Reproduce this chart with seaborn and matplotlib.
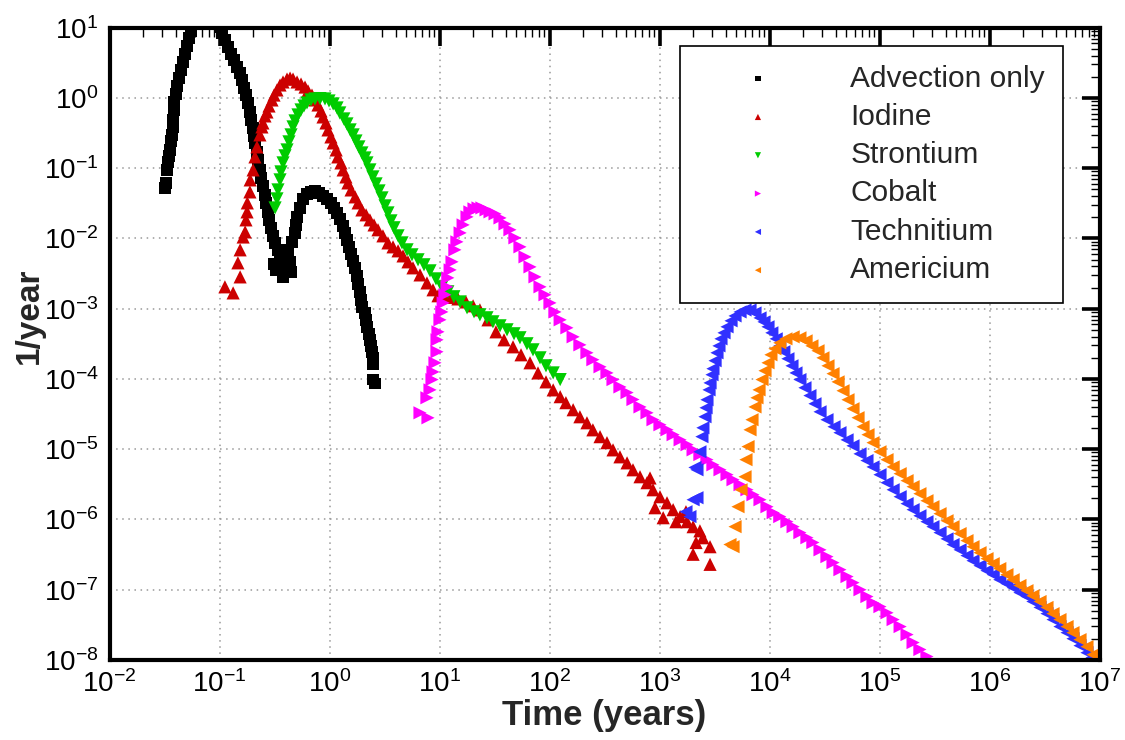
import numpy as np
import pandas as pd
import matplotlib
matplotlib.use("Agg")
import matplotlib.pyplot as plt
import seaborn as sns
from matplotlib.ticker import LogLocator, NullFormatter

# ---------------- data ----------------
adv_t = [0.0320, 0.0325, 0.0333, 0.0340, 0.0348, 0.0355, 0.0362, 0.0370, 0.0378, 0.0378,
         0.0386, 0.0386, 0.0402, 0.0411, 0.0428, 0.0447, 0.0466, 0.0486, 0.0507, 0.0528,
         0.0551, 0.0586, 0.0638, 0.0738, 0.0855, 0.0949, 0.101, 0.105, 0.112, 0.119,
         0.127, 0.135, 0.144, 0.154, 0.160, 0.167, 0.174, 0.182, 0.189, 0.193,
         0.202, 0.206, 0.210, 0.219, 0.224, 0.233, 0.238, 0.248, 0.259, 0.265,
         0.276, 0.282, 0.294, 0.306, 0.320, 0.340, 0.355, 0.313, 0.327, 0.378,
         0.403, 0.438, 0.447, 0.420, 0.456, 0.486, 0.496, 0.507, 0.539, 0.574,
         0.624, 0.679, 0.738, 0.803, 0.873, 0.949, 1.03, 1.10, 1.17, 1.24,
         1.33, 1.38, 1.44, 1.50, 1.57, 1.64, 1.71, 1.78, 1.82, 1.89,
         1.93, 1.97, 2.10, 2.15, 2.19, 2.29, 2.33, 2.38, 2.43, 2.48,
         2.48, 2.48, 2.59]
adv_q = [0.052, 0.0618, 0.0946, 0.123, 0.150, 0.182, 0.244, 0.298, 0.387, 0.486,
         0.675, 0.877, 1.14, 1.48, 1.92, 2.50, 3.25, 4.22, 5.49, 7.13,
         8.98, 12.1, 16.7, 21.0, 19.0, 13.7, 10.2, 8.41, 6.68, 5.32,
         4.23, 3.47, 2.76, 2.27, 1.80, 1.39, 1.10, 0.849, 0.632, 0.487,
         0.374, 0.288, 0.229, 0.171, 0.131, 0.0946, 0.0728, 0.0560, 0.0417, 0.0321,
         0.0239, 0.0184, 0.0142, 0.0109, 0.00865, 0.00689, 0.00565, 0.00435, 0.00357, 0.00284,
         0.00382, 0.00465, 0.00335, 0.00689, 0.00895, 0.0120, 0.0156, 0.0203, 0.0272, 0.0366,
         0.0431, 0.0460, 0.0475, 0.0446, 0.0404, 0.0366, 0.0321, 0.0272, 0.0231, 0.0190,
         0.0151, 0.0120, 0.00955, 0.00760, 0.00604, 0.00480, 0.00382, 0.00294, 0.00226, 0.00174,
         0.00134, 0.00106, 0.000874, 0.000695, 0.000553, 0.000440, 0.000361, 0.000297, 0.000244, 0.000200,
         0.000164, 0.000098, 0.000086]

iod_t = [0.112, 0.133, 0.154, 0.147, 0.154, 0.164, 0.171, 0.174, 0.178, 0.179,
         0.189, 0.190, 0.202, 0.210, 0.219, 0.233, 0.243, 0.248, 0.259, 0.270,
         0.282, 0.300, 0.313, 0.333, 0.355, 0.378, 0.411, 0.438, 0.466, 0.507,
         0.551, 0.599, 0.638, 0.693, 0.738, 0.786, 0.837, 0.873, 0.929, 0.969,
         1.03, 1.08, 1.15, 1.19, 1.27, 1.33, 1.41, 1.47, 1.57, 1.71,
         1.82, 1.97, 2.15, 2.33, 2.54, 2.76, 3.06, 3.40, 3.78, 4.20,
         4.66, 5.17, 5.74, 6.65, 7.69, 8.73, 9.69, 11.0, 12.5, 14.7,
         17.4, 20.2, 23.3, 27.6, 32.6, 38.6, 46.6, 55.1, 66.5, 78.6,
         92.9, 108, 125, 141, 164, 189, 219, 248, 288, 333,
         378, 437, 507, 574, 665, 770, 873, 1010, 1170, 1330,
         1540, 1780, 2020, 2330, 2480, 2880, 2020, 2880, 910, 1080,
         2150, 1410, 820, 1740]
iod_q = [0.00205, 0.00168, 0.00284, 0.00450, 0.00689, 0.0105, 0.0124, 0.0184, 0.0239, 0.0321,
         0.0460, 0.0682, 0.0946, 0.145, 0.201, 0.298, 0.387, 0.441, 0.555, 0.632,
         0.769, 0.937, 1.10, 1.30, 1.53, 1.69, 1.86, 1.92, 1.86, 1.69,
         1.58, 1.43, 1.26, 1.10, 0.937, 0.795, 0.653, 0.537, 0.441, 0.351,
         0.279, 0.229, 0.182, 0.145, 0.119, 0.0946, 0.0752, 0.0618, 0.0491, 0.0391,
         0.0321, 0.0255, 0.0217, 0.0184, 0.0156, 0.0133, 0.0109, 0.00865, 0.00760, 0.00667,
         0.00565, 0.00465, 0.00382, 0.00303, 0.00233, 0.00186, 0.00153, 0.00148, 0.00145, 0.00138,
         0.00125, 0.00110, 0.000964, 0.000695, 0.000469, 0.000361, 0.000287, 0.000221, 0.000170, 0.000122,
         9.1e-5, 7.0e-5, 5.6e-5, 4.6e-5, 3.65e-5, 2.9e-5, 2.38e-5, 1.89e-5, 1.51e-5, 1.24e-5,
         9.8e-6, 7.8e-6, 6.4e-6, 5.1e-6, 4.06e-6, 3.34e-6, 2.65e-6, 2.11e-6, 1.73e-6, 1.38e-6,
         1.10e-6, 9.3e-7, 7.9e-7, 6.9e-7, 5.5e-7, 4.1e-7, 3.2e-7, 2.3e-7, 1.47e-6, 1.06e-6,
         4.7e-7, 9.3e-7, 3.9e-6, 1.29e-6]

str_t = [0.320, 0.333, 0.340, 0.355, 0.362, 0.378, 0.394, 0.411, 0.428, 0.447,
         0.466, 0.486, 0.517, 0.551, 0.586, 0.624, 0.679, 0.738, 0.820, 0.910,
         0.990, 1.08, 1.17, 1.24, 1.35, 1.44, 1.54, 1.64, 1.74, 1.85,
         1.97, 2.10, 2.19, 2.33, 2.48, 2.65, 2.82, 3.00, 3.20, 3.40,
         3.62, 3.86, 4.20, 4.56, 5.07, 5.62, 6.38, 7.23, 8.20, 9.29,
         10.5, 11.9, 13.5, 15.4, 17.8, 20.6, 23.3, 27.0, 30.6, 35.5,
         41.1, 47.6, 53.9, 62.4, 70.8, 82.0, 92.9, 108, 125]
str_q = [0.0272, 0.0366, 0.0491, 0.0682, 0.0886, 0.119, 0.150, 0.182, 0.237, 0.298,
         0.387, 0.471, 0.573, 0.675, 0.769, 0.849, 0.937, 0.968, 0.980, 0.968,
         0.906, 0.822, 0.721, 0.612, 0.503, 0.427, 0.351, 0.298, 0.244, 0.201,
         0.165, 0.140, 0.119, 0.0946, 0.0752, 0.0598, 0.0475, 0.0378, 0.0291, 0.0231,
         0.0178, 0.0142, 0.0109, 0.00865, 0.00689, 0.00585, 0.00497, 0.00422, 0.00346, 0.00266,
         0.00205, 0.00174, 0.00148, 0.00125, 0.00103, 0.000904, 0.000819, 0.000743, 0.000651, 0.000571,
         0.000501, 0.000440, 0.000386, 0.000317, 0.000260, 0.000200, 0.000154, 0.000122, 0.000098]

cob_t = [6.65, 7.86, 7.69, 8.20, 8.55, 8.73, 9.10, 9.49, 9.50, 9.69,
         10.1, 10.5, 10.8, 11.2, 11.7, 11.9, 12.5, 13.0, 13.8, 14.4,
         15.4, 16.4, 17.8, 18.9, 20.6, 22.4, 24.3, 26.5, 28.8, 32.0,
         35.5, 39.4, 43.7, 48.5, 53.9, 59.9, 66.5, 73.8, 82.0, 91.0,
         101, 112, 125, 144, 164, 189, 219, 248, 288, 333,
         378, 437, 507, 574, 665, 770, 873, 1010, 1170, 1330,
         1540, 1780, 2020, 2330, 2700, 3060, 3550, 4110, 4660, 5400,
         6240, 7080, 8200, 9490, 10800, 12400, 14400, 16400, 18900, 21900,
         24800, 28800, 33300, 37800, 43700, 50700, 57400, 66500, 76900, 87300,
         101000, 117000, 133000, 154000, 178000, 202000, 233000, 270000]
cob_q = [3.30e-5, 2.80e-5, 5.4e-5, 7.0e-5, 9.8e-5, 1.26e-4, 1.70e-4, 2.44e-4, 3.61e-4, 4.69e-4,
         6.95e-4, 9.0e-4, 1.21e-3, 1.58e-3, 2.05e-3, 2.75e-3, 3.57e-3, 4.65e-3, 6.89e-3, 8.95e-3,
         1.20e-2, 1.56e-2, 2.03e-2, 2.39e-2, 2.64e-2, 2.72e-2, 2.72e-2, 2.55e-2, 2.39e-2, 2.24e-2,
         1.96e-2, 1.61e-2, 1.33e-2, 1.02e-2, 7.60e-3, 5.47e-3, 3.94e-3, 2.84e-3, 2.05e-3, 1.58e-3,
         1.21e-3, 9.0e-4, 6.95e-4, 5.35e-4, 3.98e-4, 3.06e-4, 2.36e-4, 1.88e-4, 1.49e-4, 1.22e-4,
         9.8e-5, 7.7e-5, 6.4e-5, 5.1e-5, 4.0e-5, 3.30e-5, 2.63e-5, 2.23e-5, 1.89e-5, 1.61e-5,
         1.36e-5, 1.16e-5, 9.8e-6, 8.4e-6, 7.1e-6, 6.0e-6, 5.1e-6, 4.34e-6, 3.68e-6, 3.13e-6,
         2.65e-6, 2.25e-6, 1.91e-6, 1.52e-6, 1.25e-6, 1.10e-6, 9.3e-7, 7.9e-7, 6.5e-7, 5.5e-7,
         4.7e-7, 3.7e-7, 2.96e-7, 2.43e-7, 1.93e-7, 1.54e-7, 1.26e-7, 1.00e-7, 8.0e-8, 6.5e-8,
         5.75e-8, 4.7e-8, 3.76e-8, 2.99e-8, 2.30e-8, 1.77e-8, 1.41e-8, 1.12e-8]

tec_t = [1890, 1740, 2190, 2020, 2190, 2100, 2330, 2430, 2480, 2590,
         2650, 2700, 2820, 2880, 3000, 3060, 3200, 3330, 3470, 3620,
         3860, 4110, 4470, 4860, 5400, 5990, 6650, 7380, 8200, 8910,
         9690, 10500, 11500, 12400, 13500, 14700, 16000, 17400, 18900, 21000,
         23300, 25900, 28800, 33300, 38600, 43700, 50700, 57400, 66500, 76900,
         87300, 101000, 117000, 133000, 154000, 178000, 202000, 233000, 270000, 306000,
         355000, 411000, 466000, 540000, 624000, 708000, 820000, 949000, 1.08e6, 1.24e6,
         1.44e6, 1.64e6, 1.89e6, 2.19e6, 2.48e6, 2.88e6, 3.33e6, 3.78e6, 4.37e6, 5.07e6,
         5.74e6, 6.65e6, 7.69e6, 8.55e6]
tec_q = [1.10e-6, 1.29e-6, 2.04e-6, 1.91e-6, 5.1e-6, 5.5e-6, 9.2e-6, 1.51e-5, 2.02e-5, 2.90e-5,
         3.89e-5, 5.06e-5, 7.0e-5, 8.8e-5, 1.15e-4, 1.40e-4, 1.82e-4, 2.36e-4, 2.96e-4, 3.73e-4,
         4.54e-4, 5.53e-4, 6.73e-4, 7.9e-4, 9.0e-4, 9.6e-4, 9.6e-4, 8.7e-4, 7.4e-4, 6.5e-4,
         5.53e-4, 4.54e-4, 3.73e-4, 2.96e-4, 2.44e-4, 1.94e-4, 1.54e-4, 1.22e-4, 9.8e-5, 7.5e-5,
         5.8e-5, 4.44e-5, 3.41e-5, 2.63e-5, 2.09e-5, 1.72e-5, 1.36e-5, 1.12e-5, 8.6e-6, 6.9e-6,
         5.6e-6, 4.34e-6, 3.34e-6, 2.65e-6, 2.11e-6, 1.68e-6, 1.38e-6, 1.13e-6, 9.3e-7, 7.9e-7,
         6.5e-7, 5.3e-7, 4.4e-7, 3.7e-7, 3.06e-7, 2.59e-7, 2.20e-7, 1.87e-7, 1.64e-7, 1.39e-7,
         1.22e-7, 1.07e-7, 9.1e-8, 8.0e-8, 6.8e-8, 5.6e-8, 4.57e-8, 3.76e-8, 2.99e-8, 2.45e-8,
         2.01e-8, 1.60e-8, 1.27e-8, 1.08e-8]

ame_t = [4370, 4660, 4860, 5170, 5510, 5990, 6110, 6380, 6650, 6930,
         7380, 7690, 8030, 8550, 9100, 9690, 10300, 11200, 12400, 14100,
         16400, 18900, 21500, 24300, 27600, 30600, 34000, 37800, 42000, 46600,
         51700, 57400, 63800, 70800, 78600, 87300, 101000, 117000, 133000, 154000,
         178000, 202000, 233000, 270000, 306000, 355000, 411000, 466000, 540000, 624000,
         708000, 820000, 949000, 1.08e6, 1.24e6, 1.44e6, 1.64e6, 1.89e6, 2.19e6, 2.48e6,
         2.88e6, 3.33e6, 3.78e6, 4.37e6, 5.07e6, 5.74e6, 6.65e6, 7.69e6, 8.73e6, 9.49e6]
ame_q = [4.4e-7, 4.1e-7, 7.9e-7, 1.52e-6, 2.65e-6, 4.06e-6, 7.1e-6, 1.09e-5, 1.89e-5, 2.63e-5,
         4.0e-5, 5.4e-5, 7.0e-5, 9.8e-5, 1.31e-4, 1.70e-4, 2.21e-4, 2.69e-4, 3.27e-4, 3.73e-4,
         3.98e-4, 3.85e-4, 3.49e-4, 2.96e-4, 2.52e-4, 2.00e-4, 1.54e-4, 1.19e-4, 9.1e-5, 6.8e-5,
         5.06e-5, 3.77e-5, 2.81e-5, 2.09e-5, 1.61e-5, 1.24e-5, 9.2e-6, 7.1e-6, 5.6e-6, 4.49e-6,
         3.57e-6, 2.93e-6, 2.33e-6, 1.85e-6, 1.52e-6, 1.21e-6, 9.6e-7, 7.9e-7, 6.3e-7, 5.0e-7,
         4.1e-7, 3.37e-7, 2.77e-7, 2.35e-7, 2.00e-7, 1.64e-7, 1.39e-7, 1.15e-7, 9.7e-8, 8.2e-8,
         6.8e-8, 5.6e-8, 4.57e-8, 3.76e-8, 2.99e-8, 2.45e-8, 1.95e-8, 1.55e-8, 1.19e-8, 1.01e-8]

series_names = ["Advection only", "Iodine", "Strontium", "Cobalt", "Technitium", "Americium"]
x_ticks = [1e-2, 1e-1, 1e0, 1e1, 1e2, 1e3, 1e4, 1e5, 1e6, 1e7]
y_ticks = [1e-8, 1e-7, 1e-6, 1e-5, 1e-4, 1e-3, 1e-2, 1e-1, 1e0, 1e1]

# ---------------- style ----------------
sns.set_theme(style="white")
plt.rcParams["font.family"] = ["Liberation Sans", "DejaVu Sans"]
plt.rcParams["mathtext.fontset"] = "custom"
plt.rcParams["mathtext.rm"] = "Liberation Sans"
plt.rcParams["axes.unicode_minus"] = False

styles = {
    "Advection only": dict(color="#000000", marker="s", s=70),
    "Iodine": dict(color="#CC0000", marker="^", s=90),
    "Strontium": dict(color="#00CC00", marker="v", s=90),
    "Cobalt": dict(color="#FF00FF", marker=">", s=90),
    "Technitium": dict(color="#3030FF", marker="<", s=90),
    "Americium": dict(color="#FF8000", marker="<", s=90),
}
data = {
    "Advection only": (adv_t, adv_q),
    "Iodine": (iod_t, iod_q),
    "Strontium": (str_t, str_q),
    "Cobalt": (cob_t, cob_q),
    "Technitium": (tec_t, tec_q),
    "Americium": (ame_t, ame_q),
}

fig = plt.figure(figsize=(11.25, 7.4), dpi=100)
ax = fig.add_axes([109.5 / 1125, 80 / 740, 990 / 1125, 632.3 / 740])

for name in series_names:
    t, q = data[name]
    df = pd.DataFrame({"t": t, "q": q})
    st = styles[name]
    sns.scatterplot(data=df, x="t", y="q", ax=ax, color=st["color"], marker=st["marker"],
                    s=st["s"], linewidth=0, edgecolor="none", label=name, legend=False)

ax.set_xscale("log")
ax.set_yscale("log")
ax.set_xlim(1e-2, 1e7)
ax.set_ylim(1e-8, 1e1)
ax.set_xticks(x_ticks)
ax.set_yticks(y_ticks)
ax.xaxis.set_minor_locator(LogLocator(base=10, subs=np.arange(2, 10), numticks=100))
ax.yaxis.set_minor_locator(LogLocator(base=10, subs=np.arange(2, 10), numticks=100))
ax.xaxis.set_minor_formatter(NullFormatter())
ax.yaxis.set_minor_formatter(NullFormatter())

ax.tick_params(which="both", direction="in", top=True, right=True, colors="black")
ax.tick_params(which="major", length=13, width=2.6, labelsize=20, pad=7)
ax.tick_params(axis="y", which="major", pad=8)
ax.tick_params(which="minor", length=6.5, width=1.0)
for sp in ax.spines.values():
    sp.set_linewidth(3)
    sp.set_color("black")
ax.grid(True, which="major", linestyle=(0, (1, 3)), color="#999999", linewidth=1.1)
ax.set_axisbelow(True)
ax.set_xlabel("")
ax.set_ylabel("")

fig.text(604.5 / 1125, 1 - 725 / 740, "Time (years)", ha="center", va="baseline",
         fontsize=25, fontweight="bold")
fig.text(29 / 1125, 1 - 316 / 740, "1/year", ha="center", va="center", rotation=90,
         fontsize=24, fontweight="bold")

leg = ax.legend(loc="upper left", bbox_to_anchor=(680 / 1125, 1 - 46 / 740),
                bbox_transform=fig.transFigure, fontsize=21.5, markerscale=0.47,
                frameon=True, fancybox=False, edgecolor="black", framealpha=1,
                borderpad=0.62, handlelength=3.98, handletextpad=1.1,
                labelspacing=0.345, borderaxespad=0)
leg.get_frame().set_linewidth(1.2)

fig.savefig("out.png", dpi=100)
